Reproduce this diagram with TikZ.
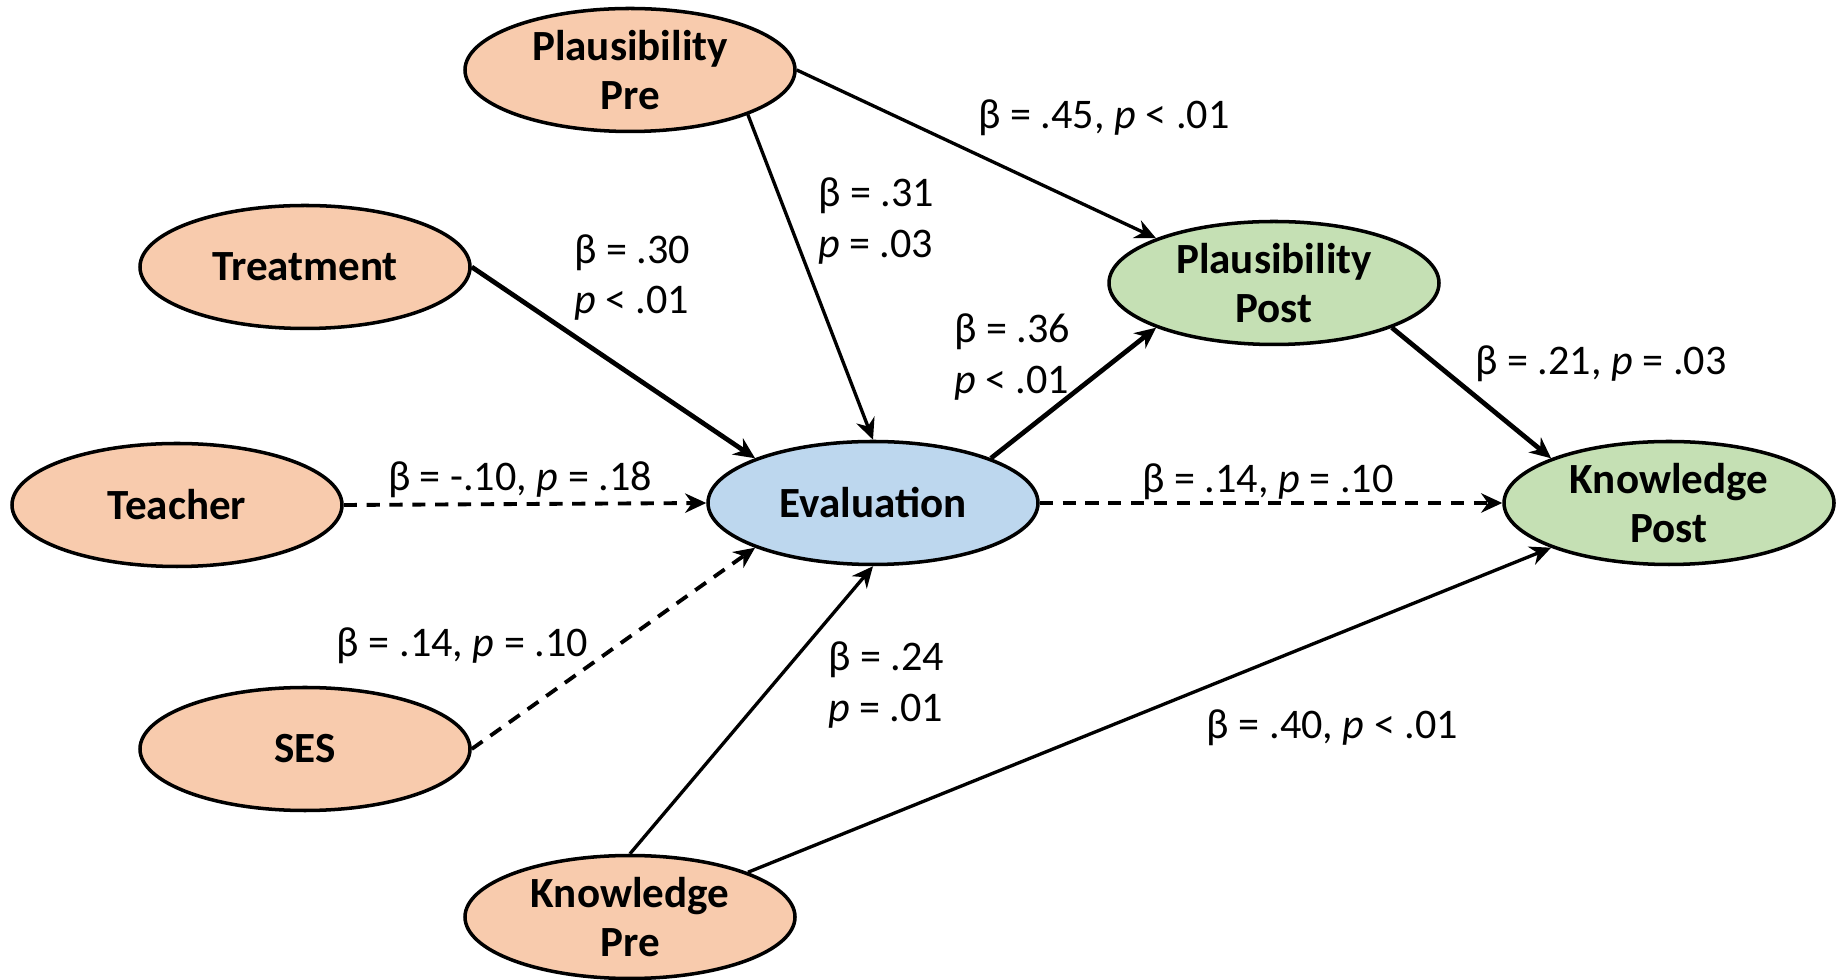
\documentclass[tikz,border=0pt]{standalone}
\usepackage{fontspec}
\setmainfont{Carlito}
\usepackage{xcolor}
\usepackage{tikz}
\usetikzlibrary{arrows.meta,shapes.geometric}

\definecolor{preorange}{HTML}{F8CBAD}
\definecolor{evalblue}{HTML}{BDD7EE}
\definecolor{postgreen}{HTML}{C5E0B4}

\begin{document}
\begin{tikzpicture}[
  var/.style={ellipse, draw=black, line width=2pt, inner sep=0pt,
              minimum width=6.6cm, minimum height=2.46cm, align=center,
              font=\fontsize{24.5}{28}\selectfont\bfseries},
  path/.style={-{Stealth[length=12pt, width=11pt]}, line width=1.9pt},
  strong/.style={path, line width=2.7pt},
  weak/.style={path, line width=2.2pt, dash pattern=on 7.5pt off 5.5pt},
  coef/.style={font=\fontsize{24}{28.5}\selectfont, align=left}
]
\useasboundingbox (0,0) rectangle (36.86,19.6);

% Predictors
\node[var, fill=preorange] (plpre) at (12.6,18.2) {Plausibility\\Pre};
\node[var, fill=preorange] (treat) at (6.1,14.26) {Treatment};
\node[var, fill=preorange] (teacher) at (3.54,9.5) {Teacher};
\node[var, fill=preorange] (ses) at (6.1,4.62) {SES};
\node[var, fill=preorange] (knpre) at (12.6,1.26) {Knowledge\\Pre};

% Mediator and outcomes
\node[var, fill=evalblue] (eval) at (17.46,9.54) {Evaluation};
\node[var, fill=postgreen] (plpost) at (25.48,13.94) {Plausibility\\Post};
\node[var, fill=postgreen] (knpost) at (33.38,9.54) {Knowledge\\Post};

% Paths
\draw[path] (plpre.east) -- (plpost.north west);
\draw[path] (plpre.south east) -- (eval.north);
\draw[strong] (treat.east) -- (eval.north west);
\draw[weak] (teacher.east) -- (eval.west);
\draw[weak] (ses.east) -- (eval.south west);
\draw[path] (knpre.north) -- (eval.south);
\draw[path] (knpre.north east) -- (knpost.south west);
\draw[strong] (eval.north east) -- (plpost.south west);
\draw[weak] (eval.east) -- (knpost.west);
\draw[strong] (plpost.south east) -- (knpost.north west);

% Coefficients
\node[coef] (c1) at (22.08,17.24) {β = .45, \textit{p} < .01};
\node[coef, anchor=west] (c2) at (16.24,15.18) {β = .31\\\textit{p} = .03};
\node[coef, anchor=west] (c3) at (11.36,14.05) {β = .30\\\textit{p} < .01};
\node[coef, anchor=west] (c4) at (18.96,12.46) {β = .36\\\textit{p} < .01};
\node[coef] (c5) at (32.02,12.32) {β = .21, \textit{p} = .03};
\node[coef] (c6) at (10.4,10.0) {β = -.10, \textit{p} = .18};
\node[coef] (c7) at (25.36,9.96) {β = .14, \textit{p} = .10};
\node[coef] (c8) at (9.25,6.68) {β = .14, \textit{p} = .10};
\node[coef, anchor=west] (c9) at (16.44,5.9) {β = .24\\\textit{p} = .01};
\node[coef] (c10) at (26.65,5.04) {β = .40, \textit{p} < .01};

\end{tikzpicture}
\end{document}
